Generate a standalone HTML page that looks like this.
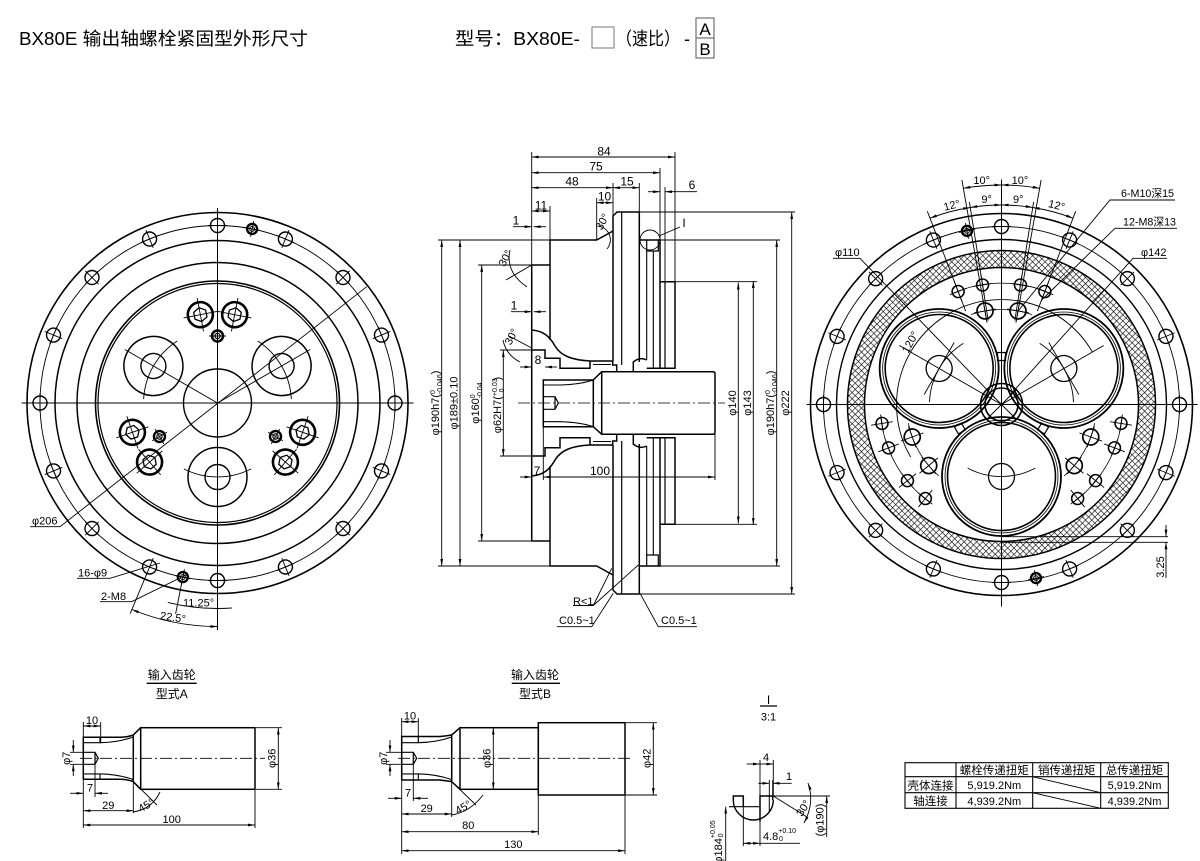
<!DOCTYPE html>
<html><head><meta charset="utf-8"><title>BX80E</title>
<style>
html,body{margin:0;padding:0;background:#fff;width:1200px;height:861px;overflow:hidden}
svg{display:block}
text{font-family:"Liberation Sans","Noto Sans CJK SC",sans-serif;fill:#000;stroke:none}
</style></head><body>
<svg width="1200" height="861" viewBox="0 0 1200 861" xmlns="http://www.w3.org/2000/svg">
<defs>
<marker id="ar" viewBox="0 0 10 4" refX="10" refY="2" markerWidth="7" markerHeight="2.8" markerUnits="userSpaceOnUse" orient="auto-start-reverse"><path d="M0,0L10,2L0,4z" fill="#000" stroke="none"/></marker>
<pattern id="hx" width="4.4" height="4.4" patternUnits="userSpaceOnUse" patternTransform="rotate(45)"><path d="M0,0H4.4M0,0V4.4" stroke="#000" stroke-width="1.15" fill="none"/></pattern>
<g id="h9" fill="none" stroke="#000"><circle r="7" stroke-width="1.4"/><path d="M-9.5,0H9.5M0,-9.5V9.5" stroke-width="0.9"/></g>
<g id="m8o" fill="none" stroke="#000"><circle r="5" stroke-width="2.4"/><circle r="2.4" stroke-width="1"/><path d="M-8,0H8M0,-8V8" stroke-width="0.9"/></g>
<g id="bolt" fill="none" stroke="#000"><circle r="12.5" stroke-width="2.6"/><path d="M7,0L3.5,6.06L-3.5,6.06L-7,0L-3.5,-6.06L3.5,-6.06Z" stroke-width="1.3"/><path d="M-17,0H17M0,-17V17" stroke-width="0.9"/></g>
<g id="dow" fill="none" stroke="#000"><circle r="5.5" stroke-width="2.4"/><circle r="2.6" stroke-width="1.2"/><path d="M-8.5,0H8.5M0,-8.5V8.5" stroke-width="0.9"/></g>
<g id="m8i" fill="none" stroke="#000"><circle r="6" stroke-width="1.5"/><path d="M-11,0H11M0,-9V9" stroke-width="0.9"/></g>
<g id="m10" fill="none" stroke="#000"><circle r="8" stroke-width="1.7"/><path d="M-12,0H12M0,-11V11" stroke-width="0.9"/></g>
<g id="mu" fill="none" stroke="#000" stroke-width="1.5">
<path d="M550,340V240H596.7L613,231"/>
<path d="M531.7,265H550"/>
<path d="M613,361V216L617,212H639.3V362"/>
<path d="M621.7,212V365" stroke-width="1.2"/>
<path d="M639.3,240H660V368.3"/>
<path d="M646.7,251V360M653.3,251V368.3" stroke-width="1.1"/>
<path d="M646.7,240V251H658.3V240" stroke-width="1.2"/>
<path d="M660,281.7H675V368.3H646.7"/>
<path d="M665,281.7V368.3" stroke-width="1.2"/>
<path d="M531.7,330C544,331 550,337 555,346C561,356 572,360 590,361H612.7V365H616.7V371.7H633.3V362Q640,356.5 646.7,360"/>
<path d="M531.7,350H545V358.3H560V368.3H590V361"/>
<path d="M593,364.5H611" stroke-width="1"/>
</g>
</defs>

<!-- HEADER -->
<text x="19" y="45" font-size="18" textLength="289" lengthAdjust="spacingAndGlyphs">BX80E 输出轴螺栓紧固型外形尺寸</text>
<text x="455" y="45" font-size="18" textLength="125" lengthAdjust="spacingAndGlyphs">型号：BX80E-</text>
<rect x="592" y="27" width="22" height="21" fill="none" stroke="#777" stroke-width="1"/>
<text x="616" y="45" font-size="18" textLength="64" lengthAdjust="spacingAndGlyphs">（速比）</text>
<text x="684" y="45" font-size="18">-</text>
<rect x="696" y="18" width="18" height="40" fill="none" stroke="#555" stroke-width="1"/>
<line x1="696" y1="38" x2="714" y2="38" stroke="#555" stroke-width="1"/>
<text x="705" y="35" font-size="17" text-anchor="middle">A</text>
<text x="705" y="55" font-size="17" text-anchor="middle">B</text>

<!-- LEFT VIEW -->
<g transform="translate(217.5,403)" fill="none" stroke="#000">
<circle r="190.5" stroke-width="1.6"/>
<circle r="177.5" stroke-width="0.9"/>
<circle r="162.5" stroke-width="1.5"/>
<circle r="140.5" stroke-width="1.5"/>
<circle r="122" stroke-width="1.6"/>
<circle r="119.5" stroke-width="1.2"/>
<circle r="34" stroke-width="1.4"/>
<path d="M-196,0H196M0,-195V227" stroke-width="1"/>
<use href="#h9" transform="rotate(0) translate(177.5,0)"/>
<use href="#h9" transform="rotate(22.5) translate(177.5,0)"/>
<use href="#h9" transform="rotate(45) translate(177.5,0)"/>
<use href="#h9" transform="rotate(67.5) translate(177.5,0)"/>
<use href="#h9" transform="rotate(90) translate(177.5,0)"/>
<use href="#h9" transform="rotate(112.5) translate(177.5,0)"/>
<use href="#h9" transform="rotate(135) translate(177.5,0)"/>
<use href="#h9" transform="rotate(157.5) translate(177.5,0)"/>
<use href="#h9" transform="rotate(180) translate(177.5,0)"/>
<use href="#h9" transform="rotate(202.5) translate(177.5,0)"/>
<use href="#h9" transform="rotate(225) translate(177.5,0)"/>
<use href="#h9" transform="rotate(247.5) translate(177.5,0)"/>
<use href="#h9" transform="rotate(270) translate(177.5,0)"/>
<use href="#h9" transform="rotate(292.5) translate(177.5,0)"/>
<use href="#h9" transform="rotate(315) translate(177.5,0)"/>
<use href="#h9" transform="rotate(337.5) translate(177.5,0)"/>
<use href="#m8o" transform="rotate(-78.75) translate(177.5,0)"/>
<use href="#m8o" transform="rotate(101.25) translate(177.5,0)"/>
<use href="#bolt" transform="rotate(-101) translate(90,0)"/>
<use href="#bolt" transform="rotate(-79) translate(90,0)"/>
<use href="#bolt" transform="rotate(19) translate(90,0)"/>
<use href="#bolt" transform="rotate(41) translate(90,0)"/>
<use href="#bolt" transform="rotate(139) translate(90,0)"/>
<use href="#bolt" transform="rotate(161) translate(90,0)"/>
<use href="#dow" transform="rotate(-90) translate(67,0)"/>
<use href="#dow" transform="rotate(30) translate(67,0)"/>
<use href="#dow" transform="rotate(150) translate(67,0)"/>
<g transform="rotate(210)"><path d="M0,0H107" stroke-width="0.9"/><path d="M65.9,-33.6A74,74 0 0,1 65.9,33.6" stroke-width="0.9"/><g transform="translate(74,0)"><circle r="29.5" stroke-width="1.5"/><circle r="12.5" stroke-width="1.4"/></g></g>
<g transform="rotate(330)"><path d="M0,0H107" stroke-width="0.9"/><path d="M65.9,-33.6A74,74 0 0,1 65.9,33.6" stroke-width="0.9"/><g transform="translate(74,0)"><circle r="29.5" stroke-width="1.5"/><circle r="12.5" stroke-width="1.4"/></g></g>
<g transform="rotate(90)"><path d="M65.9,-33.6A74,74 0 0,1 65.9,33.6" stroke-width="0.9"/><g transform="translate(74,0)"><circle r="29.5" stroke-width="1.5"/><circle r="12.5" stroke-width="1.4"/></g></g>
</g>
<g fill="none" stroke="#000" stroke-width="0.9">
<path d="M30,526.7H60L366.7,286.7"/>
<path d="M77,578.3H110L160,563"/>
<path d="M100,601.7H131.7L186,575"/>
<path d="M181.8,582.5L175.6,613.9"/>
<path d="M146.7,573.9L130.2,613.6"/>
<path d="M231.8,608A205.5,205.5 0 0,1 167.8,602.4"/>
<path d="M217.5,626.5A223.5,223.5 0 0,1 132,609.5" marker-start="url(#ar)" marker-end="url(#ar)"/>
</g>
<text x="32" y="524.5" font-size="11">φ206</text>
<text x="78" y="576.5" font-size="11">16-φ9</text>
<text x="101" y="600" font-size="11">2-M8</text>
<text x="183" y="606.5" font-size="11">11.25°</text>
<text x="173" y="621" font-size="11" text-anchor="middle" transform="rotate(8,173,617)">22.5°</text>

<!-- MIDDLE SECTION VIEW -->
<use href="#mu"/>
<use href="#mu" transform="matrix(1,0,0,-1,0,806)"/>
<g fill="none" stroke="#000" stroke-width="1.5">
<path d="M531.7,265V541"/>
<path d="M601.7,371.7H713Q715,371.7 715,373.7V432.3Q715,434.3 713,434.3H601.7L593.3,426.7V380Z"/>
<path d="M601.7,371.7V434.3"/>
<path d="M593.3,380H543.3V426.7H593.3"/>
<path d="M543.3,385H560M543.3,421.7H560" stroke-width="1.1"/>
<path d="M560,385Q580,384.5 593.3,380M560,421.7Q580,422.2 593.3,426.7" stroke-width="1.1"/>
<path d="M543.3,396.7H555L558.3,403L555,409.3H543.3M555,396.7V409.3" stroke-width="1.2"/>
</g>
<path d="M518,403H725" stroke="#000" stroke-width="0.8" stroke-dasharray="12 3 2 3"/>
<g fill="none" stroke="#000" stroke-width="0.9">
<path d="M531.7,152V265M675,152V281.7M660,168V240M613,183V216M639.3,183V212M665,187V281.7M596.7,198V240M550,206V240"/>
<path d="M438,240H550M438,566H550M478,265H531.7M478,541H531.7M500,350H531.7M500,456H531.7"/>
<path d="M640,212H795M640,594H795M660,240H780M660,566H780M675,281.7H757M675,524.3H757"/>
<path d="M715,434V480M543.3,427V480"/>
<line x1="531.7" y1="157" x2="675" y2="157" marker-start="url(#ar)" marker-end="url(#ar)"/>
<line x1="531.7" y1="172.7" x2="660" y2="172.7" marker-start="url(#ar)" marker-end="url(#ar)"/>
<line x1="531.7" y1="187.7" x2="613" y2="187.7" marker-start="url(#ar)" marker-end="url(#ar)"/>
<line x1="613" y1="187.7" x2="639.3" y2="187.7" marker-start="url(#ar)" marker-end="url(#ar)"/>
<line x1="648" y1="191.7" x2="660" y2="191.7" marker-end="url(#ar)"/>
<line x1="697" y1="191.7" x2="665" y2="191.7" marker-end="url(#ar)"/>
<line x1="596.7" y1="202.7" x2="613" y2="202.7" marker-start="url(#ar)" marker-end="url(#ar)"/>
<line x1="531.7" y1="211" x2="550" y2="211" marker-start="url(#ar)" marker-end="url(#ar)"/>
<line x1="513" y1="226.7" x2="531.7" y2="226.7" marker-end="url(#ar)"/>
<line x1="546" y1="226.7" x2="533.7" y2="226.7" marker-end="url(#ar)"/>
<line x1="511" y1="311.7" x2="531.7" y2="311.7" marker-end="url(#ar)"/>
<line x1="546" y1="311.7" x2="533.7" y2="311.7" marker-end="url(#ar)"/>
<line x1="520" y1="367" x2="531.7" y2="367" marker-end="url(#ar)"/>
<line x1="557" y1="367" x2="545" y2="367" marker-end="url(#ar)"/>
<line x1="520" y1="477" x2="531.7" y2="477" marker-end="url(#ar)"/>
<line x1="543.3" y1="477" x2="715" y2="477" marker-start="url(#ar)" marker-end="url(#ar)"/>
<path d="M531.7,265L506,280M510,250Q505,272 527,287"/>
<path d="M531.7,348L509,336M503,340Q506,355 520,362"/>
<path d="M598,226A14,14 0 0,1 607,249"/>
<line x1="441.7" y1="240" x2="441.7" y2="566" marker-start="url(#ar)" marker-end="url(#ar)"/>
<line x1="460" y1="240" x2="460" y2="566" marker-start="url(#ar)" marker-end="url(#ar)"/>
<line x1="481.7" y1="265" x2="481.7" y2="541" marker-start="url(#ar)" marker-end="url(#ar)"/>
<line x1="503.3" y1="350" x2="503.3" y2="456" marker-start="url(#ar)" marker-end="url(#ar)"/>
<line x1="738.3" y1="282.6" x2="738.3" y2="523.4" marker-start="url(#ar)" marker-end="url(#ar)"/>
<line x1="753.3" y1="281" x2="753.3" y2="525" marker-start="url(#ar)" marker-end="url(#ar)"/>
<line x1="776.7" y1="240" x2="776.7" y2="566" marker-start="url(#ar)" marker-end="url(#ar)"/>
<line x1="791.7" y1="212" x2="791.7" y2="594" marker-start="url(#ar)" marker-end="url(#ar)"/>
<circle cx="650" cy="240" r="10"/>
<path d="M659,236L680,227"/>
<path d="M573,605.5H593.3L611.7,568.3M593.3,605.5L638.3,565"/>
<path d="M557,626.7H591.7L613.3,593.3"/>
<path d="M697,626.7H658.3L640,593.3"/>
</g>
<g font-size="12" text-anchor="middle">
<text x="604" y="155.5">84</text>
<text x="596" y="170.5">75</text>
<text x="572" y="185.5">48</text>
<text x="627" y="185.5">15</text>
<text x="692" y="189">6</text>
<text x="604.5" y="200.5">10</text>
<text x="541" y="209.5">11</text>
<text x="516" y="224.5">1</text>
<text x="514" y="309.5">1</text>
<text x="538" y="364">8</text>
<text x="537" y="475">7</text>
<text x="600" y="475">100</text>
<text x="684" y="227">I</text>
</g>
<g font-size="11">
<text x="505" y="262" text-anchor="middle" transform="rotate(-62,505,258)">30°</text>
<text x="512" y="340" text-anchor="middle" transform="rotate(-62,512,337)">30°</text>
<text x="603" y="225" text-anchor="middle" transform="rotate(-62,603,222)">30°</text>
<text x="573" y="605">R&lt;1</text>
<text x="559" y="624">C0.5~1</text>
<text x="661" y="624">C0.5~1</text>
</g>
<g font-size="11" text-anchor="middle">
<text transform="translate(439,403) rotate(-90)">φ190h7(<tspan font-size="7" dy="-4">0</tspan><tspan font-size="7" dx="-4" dy="7">-0.046</tspan><tspan dy="-3">)</tspan></text>
<text transform="translate(457.5,403) rotate(-90)">φ189±0.10</text>
<text transform="translate(479,403) rotate(-90)">φ160<tspan font-size="7" dy="-4">0</tspan><tspan font-size="7" dx="-4" dy="7">-0.04</tspan></text>
<text transform="translate(501,405) rotate(-90)">φ62H7(<tspan font-size="7" dy="-4">+0.03</tspan><tspan font-size="7" dx="-14" dy="7">0</tspan><tspan dx="8" dy="-3">)</tspan></text>
<text transform="translate(736,403) rotate(-90)">φ140</text>
<text transform="translate(751,403) rotate(-90)">φ143</text>
<text transform="translate(774,403) rotate(-90)">φ190h7(<tspan font-size="7" dy="-4">0</tspan><tspan font-size="7" dx="-4" dy="7">-0.046</tspan><tspan dy="-3">)</tspan></text>
<text transform="translate(789,403) rotate(-90)">φ222</text>
</g>

<!-- RIGHT VIEW -->
<g transform="translate(1001.5,404.5)" fill="none" stroke="#000">
<path fill="url(#hx)" fill-rule="evenodd" stroke="none" d="M-154,0A154,154 0 1,0 154,0A154,154 0 1,0 -154,0ZM-137,0A137,137 0 1,0 137,0A137,137 0 1,0 -137,0Z"/>
<circle r="191" stroke-width="1.6"/>
<circle r="178" stroke-width="0.9"/>
<circle r="165" stroke-width="1.4"/>
<circle r="154" stroke-width="1.5"/>
<circle r="137" stroke-width="1.5"/>
<path d="M-195,0H196M0,-225V202" stroke-width="1"/>
<use href="#h9" transform="rotate(0) translate(178,0)"/>
<use href="#h9" transform="rotate(22.5) translate(178,0)"/>
<use href="#h9" transform="rotate(45) translate(178,0)"/>
<use href="#h9" transform="rotate(67.5) translate(178,0)"/>
<use href="#h9" transform="rotate(90) translate(178,0)"/>
<use href="#h9" transform="rotate(112.5) translate(178,0)"/>
<use href="#h9" transform="rotate(135) translate(178,0)"/>
<use href="#h9" transform="rotate(157.5) translate(178,0)"/>
<use href="#h9" transform="rotate(180) translate(178,0)"/>
<use href="#h9" transform="rotate(202.5) translate(178,0)"/>
<use href="#h9" transform="rotate(225) translate(178,0)"/>
<use href="#h9" transform="rotate(247.5) translate(178,0)"/>
<use href="#h9" transform="rotate(270) translate(178,0)"/>
<use href="#h9" transform="rotate(292.5) translate(178,0)"/>
<use href="#h9" transform="rotate(315) translate(178,0)"/>
<use href="#h9" transform="rotate(337.5) translate(178,0)"/>
<use href="#m8o" transform="rotate(-101.25) translate(177,0)"/>
<use href="#m8o" transform="rotate(78.75) translate(177,0)"/>
<use href="#m8i" transform="rotate(-99) translate(121,0)"/>
<use href="#m8i" transform="rotate(-81) translate(121,0)"/>
<use href="#m8i" transform="rotate(-111) translate(121,0)"/>
<use href="#m8i" transform="rotate(-69) translate(121,0)"/>
<use href="#m8i" transform="rotate(21) translate(121,0)"/>
<use href="#m8i" transform="rotate(39) translate(121,0)"/>
<use href="#m8i" transform="rotate(9) translate(121,0)"/>
<use href="#m8i" transform="rotate(51) translate(121,0)"/>
<use href="#m8i" transform="rotate(141) translate(121,0)"/>
<use href="#m8i" transform="rotate(159) translate(121,0)"/>
<use href="#m8i" transform="rotate(129) translate(121,0)"/>
<use href="#m8i" transform="rotate(171) translate(121,0)"/>
<use href="#m10" transform="rotate(-100) translate(95,0)"/>
<use href="#m10" transform="rotate(-80) translate(95,0)"/>
<use href="#m10" transform="rotate(20) translate(95,0)"/>
<use href="#m10" transform="rotate(40) translate(95,0)"/>
<use href="#m10" transform="rotate(140) translate(95,0)"/>
<use href="#m10" transform="rotate(160) translate(95,0)"/>
<g stroke-width="0.8">
<path d="M-48.4,-111.3A121,121 0 0,1 48.4,-111.3"/>
<path d="M-30.5,-90A95,95 0 0,1 30.5,-90"/>
<g transform="rotate(120)"><path d="M-48.4,-111.3A121,121 0 0,1 48.4,-111.3"/><path d="M-30.5,-90A95,95 0 0,1 30.5,-90"/></g>
<g transform="rotate(240)"><path d="M-48.4,-111.3A121,121 0 0,1 48.4,-111.3"/><path d="M-30.5,-90A95,95 0 0,1 30.5,-90"/></g>
</g>
<g transform="rotate(210)"><path d="M0,0H118" stroke-width="0.9"/><path d="M63.6,-33.8A72,72 0 0,1 63.6,33.8" stroke-width="0.9"/><g transform="translate(72,0)"><circle r="59.5" stroke-width="1.8"/><circle r="56.5" stroke-width="0.8"/><circle r="54" stroke-width="1.6"/><circle r="13" stroke-width="1.3"/><path d="M0,-30V30" stroke-width="0.9"/></g></g>
<g transform="rotate(330)"><path d="M0,0H118" stroke-width="0.9"/><path d="M63.6,-33.8A72,72 0 0,1 63.6,33.8" stroke-width="0.9"/><g transform="translate(72,0)"><circle r="59.5" stroke-width="1.8"/><circle r="56.5" stroke-width="0.8"/><circle r="54" stroke-width="1.6"/><circle r="13" stroke-width="1.3"/><path d="M0,-30V30" stroke-width="0.9"/></g></g>
<g transform="rotate(90)"><path d="M63.6,-33.8A72,72 0 0,1 63.6,33.8" stroke-width="0.9"/><g transform="translate(72,0)"><circle r="59.5" stroke-width="1.8"/><circle r="56.5" stroke-width="0.8"/><circle r="54" stroke-width="1.6"/><circle r="13" stroke-width="1.3"/></g></g>
<g transform="rotate(270)"><rect x="44" y="-4" width="8" height="8" stroke-width="1.2"/></g>
<g transform="rotate(30)"><rect x="44" y="-4" width="8" height="8" stroke-width="1.2"/></g>
<g transform="rotate(150)"><rect x="44" y="-4" width="8" height="8" stroke-width="1.2"/></g>
<circle r="21" stroke-width="1.6"/>
<circle r="16.5" stroke-width="1.6"/>
<path d="M-15,-15L15,15M-15,15L15,-15" stroke-width="0.9"/>
<path d="M-90.9,-52.5A105,105 0 0,1 90.9,-52.5" stroke-width="0.9"/>
<path d="M-90.9,52.5A105,105 0 0,1 -90.9,-52.5" stroke-width="0.9"/>
<g stroke-width="0.9">
<path d="M-14.8,-83.7L-39.6,-224.5M14.8,-83.7L39.6,-224.5"/>
<path d="M-13.3,-84L-32.1,-202.5M13.3,-84L32.1,-202.5"/>
<path d="M-35.8,-93.4L-74.2,-193.3M35.8,-93.4L74.2,-193.3"/>
<path d="M0,-219.5A219.5,219.5 0 0,0 -38.1,-216.2" marker-start="url(#ar)" marker-end="url(#ar)"/>
<path d="M0,-219.5A219.5,219.5 0 0,1 38.1,-216.2" marker-start="url(#ar)" marker-end="url(#ar)"/>
<path d="M0,-199.5A199.5,199.5 0 0,0 -31.2,-197" marker-start="url(#ar)" marker-end="url(#ar)"/>
<path d="M0,-199.5A199.5,199.5 0 0,1 31.2,-197" marker-start="url(#ar)" marker-end="url(#ar)"/>
<path d="M-31.2,-197A199.5,199.5 0 0,0 -71.5,-186.3" marker-start="url(#ar)" marker-end="url(#ar)"/>
<path d="M31.2,-197A199.5,199.5 0 0,1 71.5,-186.3" marker-start="url(#ar)" marker-end="url(#ar)"/>
</g>
</g>
<g fill="none" stroke="#000" stroke-width="0.9">
<path d="M1175,200H1110L1018,311"/>
<path d="M1177,228.3H1115L1041.7,300"/>
<path d="M1167,258.3H1133L1010,395"/>
<path d="M833,258.3H860L995,398"/>
<path d="M1001.5,536.7H1168M1001.5,542.3H1168"/>
<line x1="1166" y1="525" x2="1166" y2="536.7" marker-end="url(#ar)"/>
<line x1="1166" y1="578" x2="1166" y2="542.3" marker-end="url(#ar)"/>
</g>
<g font-size="11">
<text x="981.7" y="184" text-anchor="middle">10°</text>
<text x="1020" y="184" text-anchor="middle">10°</text>
<text x="986.7" y="203" text-anchor="middle">9°</text>
<text x="1018.3" y="203" text-anchor="middle">9°</text>
<text x="951.7" y="209" text-anchor="middle" transform="rotate(-14,951.7,205)">12°</text>
<text x="1056.7" y="209" text-anchor="middle" transform="rotate(14,1056.7,205)">12°</text>
<text x="1121" y="197" textLength="53" lengthAdjust="spacingAndGlyphs">6-M10深15</text>
<text x="1123" y="225.5" textLength="53" lengthAdjust="spacingAndGlyphs">12-M8深13</text>
<text x="1141" y="256">φ142</text>
<text x="835" y="256">φ110</text>
<text x="910" y="346" text-anchor="middle" transform="rotate(-62,910,342)">120°</text>
<text transform="translate(1164,567) rotate(-90)" text-anchor="middle">3.25</text>
</g>

<!-- TYPE A / B titles -->
<g font-size="12" text-anchor="middle">
<text x="171.7" y="679">输入齿轮</text>
<text x="171.7" y="698">型式A</text>
<text x="535" y="679">输入齿轮</text>
<text x="535" y="698">型式B</text>
</g>
<line x1="146.7" y1="683.3" x2="196.7" y2="683.3" stroke="#000" stroke-width="1.3"/>
<line x1="511.7" y1="683.3" x2="560" y2="683.3" stroke="#000" stroke-width="1.3"/>

<!-- TYPE A -->
<g fill="none" stroke="#000" stroke-width="1.5">
<rect x="140.7" y="727.7" width="114.3" height="61.6"/>
<path d="M140.7,727.7L133.3,735V781.7L140.7,789.3"/>
<path d="M83.3,779.3V737.3H121Q128,737 133.3,735M83.3,779.3H121Q128,779.6 133.3,781.6"/>
<path d="M83.3,742.7H100V737.3M83.3,773.9H100V779.3" stroke-width="1.1"/>
<path d="M100,742.7Q118,742.5 133.3,737M100,773.9Q118,774.1 133.3,779.6" stroke-width="1.1"/>
<path d="M83.3,752.3H95L98.3,758.3L95,764.3H83.3M95,752.3V764.3" stroke-width="1.2"/>
</g>
<path d="M80,758.3H265" stroke="#000" stroke-width="0.8" stroke-dasharray="12 3 2 3"/>
<g fill="none" stroke="#000" stroke-width="0.9">
<path d="M83.3,722V737M100.7,722V742.7M70,752.3H83.3M70,764.3H83.3M95,764.3V797M133.3,782V813M83.3,779V828M255,790V828M256,727.7H282M256,789.3H282M133.3,781.7L157,805"/>
<line x1="83.3" y1="726" x2="100.7" y2="726" marker-start="url(#ar)" marker-end="url(#ar)"/>
<line x1="73.3" y1="740" x2="73.3" y2="752.3" marker-end="url(#ar)"/>
<line x1="73.3" y1="776" x2="73.3" y2="764.3" marker-end="url(#ar)"/>
<line x1="70" y1="793.3" x2="83.3" y2="793.3" marker-end="url(#ar)"/>
<line x1="108" y1="793.3" x2="95" y2="793.3" marker-end="url(#ar)"/>
<line x1="83.3" y1="810.7" x2="133.3" y2="810.7" marker-start="url(#ar)" marker-end="url(#ar)"/>
<line x1="83.3" y1="825" x2="255" y2="825" marker-start="url(#ar)" marker-end="url(#ar)"/>
<line x1="278.3" y1="727.7" x2="278.3" y2="789.3" marker-start="url(#ar)" marker-end="url(#ar)"/>
<path d="M133.3,812Q152,809 160,792"/>
</g>
<g font-size="11" text-anchor="middle">
<text x="92" y="724">10</text>
<text transform="translate(70,758.3) rotate(-90)">φ7</text>
<text x="90" y="791.5">7</text>
<text x="108.3" y="809">29</text>
<text x="146" y="809" transform="rotate(-30,146,805)">45°</text>
<text x="171.7" y="823">100</text>
<text transform="translate(275.5,758.3) rotate(-90)">φ36</text>
</g>

<!-- TYPE B -->
<g fill="none" stroke="#000" stroke-width="1.5">
<rect x="460" y="727.7" width="78.3" height="61.6"/>
<rect x="538.3" y="722.7" width="86.7" height="72.3"/>
<path d="M460,727.7L451.7,735V781.7L460,789.3"/>
<path d="M401.7,780V736.5H440Q446,736 451.7,735M401.7,780H440Q446,780.6 451.7,781.6"/>
<path d="M401.7,742.7H418.3V736.5M401.7,773.9H418.3V780" stroke-width="1.1"/>
<path d="M418.3,742.7Q436,742.5 451.7,737M418.3,773.9Q436,774.1 451.7,779.6" stroke-width="1.1"/>
<path d="M401.7,752.3H413.3L416.7,758.3L413.3,764.3H401.7M413.3,752.3V764.3" stroke-width="1.2"/>
</g>
<path d="M398,758.3H633" stroke="#000" stroke-width="0.8" stroke-dasharray="12 3 2 3"/>
<g fill="none" stroke="#000" stroke-width="0.9">
<path d="M401.7,718V736M418.3,718V742.7M386,752.3H401.7M386,764.3H401.7M413.3,764.3V801M451.7,782V817M401.7,780V854M538.3,795V835M625,795V854M626,722.7H657M626,795H657M451.7,781.7L476,805"/>
<line x1="401.7" y1="721.7" x2="418.3" y2="721.7" marker-start="url(#ar)" marker-end="url(#ar)"/>
<line x1="390" y1="740" x2="390" y2="752.3" marker-end="url(#ar)"/>
<line x1="390" y1="776" x2="390" y2="764.3" marker-end="url(#ar)"/>
<line x1="388" y1="798.3" x2="401.7" y2="798.3" marker-end="url(#ar)"/>
<line x1="428" y1="798.3" x2="413.3" y2="798.3" marker-end="url(#ar)"/>
<line x1="401.7" y1="814" x2="451.7" y2="814" marker-start="url(#ar)" marker-end="url(#ar)"/>
<line x1="401.7" y1="831.7" x2="538.3" y2="831.7" marker-start="url(#ar)" marker-end="url(#ar)"/>
<line x1="401.7" y1="850.7" x2="625" y2="850.7" marker-start="url(#ar)" marker-end="url(#ar)"/>
<line x1="493.3" y1="727.7" x2="493.3" y2="789.3" marker-start="url(#ar)" marker-end="url(#ar)"/>
<line x1="653.3" y1="722.7" x2="653.3" y2="795" marker-start="url(#ar)" marker-end="url(#ar)"/>
<path d="M451.7,815Q470,812 483,795"/>
</g>
<g font-size="11" text-anchor="middle">
<text x="410" y="719.5">10</text>
<text transform="translate(387,758.3) rotate(-90)">φ7</text>
<text x="408" y="796.5">7</text>
<text x="426.7" y="812">29</text>
<text x="463" y="811" transform="rotate(-30,463,807)">45°</text>
<text x="468.3" y="829">80</text>
<text x="513.3" y="848">130</text>
<text transform="translate(490.5,758.3) rotate(-90)">φ36</text>
<text transform="translate(650.5,758.3) rotate(-90)">φ42</text>
</g>

<!-- DETAIL I -->
<text x="768.5" y="704" font-size="12" text-anchor="middle">I</text>
<line x1="760" y1="706" x2="777" y2="706" stroke="#000" stroke-width="1.2"/>
<text x="768.5" y="720.5" font-size="11" text-anchor="middle">3:1</text>
<g fill="none" stroke="#000" stroke-width="1.5">
<path d="M733.3,800V796H743.3V806.7"/>
<path d="M729,806.7H760" stroke-width="1.2"/>
<path d="M760,821.7V796H772.7V800"/>
<path d="M769.3,796V812" stroke-width="1"/>
<path d="M733.3,800A20,20 0 0,0 773.3,800" stroke-width="1.4"/>
</g>
<g fill="none" stroke="#000" stroke-width="0.9">
<path d="M760,760V796M773.3,760V796M769.3,780V796M772.7,780V796M773.3,796H830M773.3,796L807,817M743.3,806.7V846M760,821.7V846"/>
<line x1="746.7" y1="764" x2="760" y2="764" marker-end="url(#ar)"/>
<line x1="760" y1="764" x2="773.3" y2="764" marker-end="url(#ar)"/>
<line x1="758.3" y1="783.3" x2="769.3" y2="783.3" marker-end="url(#ar)"/>
<line x1="791.7" y1="783.3" x2="772.7" y2="783.3" marker-end="url(#ar)"/>
<line x1="826.7" y1="837" x2="826.7" y2="796" marker-end="url(#ar)"/>
<line x1="743.3" y1="843.3" x2="760" y2="843.3" marker-start="url(#ar)" marker-end="url(#ar)"/>
<line x1="760" y1="843.3" x2="800" y2="843.3"/>
<line x1="725.7" y1="861" x2="725.7" y2="806.7" marker-end="url(#ar)"/>
<path d="M808,783Q815,803 804,823" marker-start="url(#ar)" marker-end="url(#ar)"/>
</g>
<g font-size="11">
<text x="766" y="761" text-anchor="middle">4</text>
<text x="789" y="780" text-anchor="middle">1</text>
<text x="803" y="812" text-anchor="middle" transform="rotate(-58,803,808)">30°</text>
<text transform="translate(823.5,820) rotate(-90)" text-anchor="middle">(φ190)</text>
<text x="763" y="840">4.8<tspan font-size="7" dy="-7">+0.10</tspan><tspan font-size="7" dx="-17" dy="8">0</tspan></text>
<text transform="translate(722,842) rotate(-90)" text-anchor="middle">φ184<tspan font-size="7" dy="-7">+0.05</tspan><tspan font-size="7" dx="-17" dy="8">0</tspan></text>
</g>

<!-- TABLE -->
<g fill="none" stroke="#000" stroke-width="1.1">
<rect x="905" y="762.7" width="263.3" height="45.6"/>
<path d="M905,776.7H1168.3M905,792.7H1168.3M956,762.7V808.3M1032.7,762.7V808.3M1100.7,762.7V808.3"/>
<path d="M1032.7,776.7L1100.7,792.7M1032.7,792.7L1100.7,808.3" stroke-width="1"/>
</g>
<g font-size="11.5" text-anchor="middle">
<text x="994.3" y="774">螺栓传递扭矩</text>
<text x="1066.7" y="774">销传递扭矩</text>
<text x="1134.5" y="774">总传递扭矩</text>
<text x="930.5" y="789.5">壳体连接</text>
<text x="930.5" y="805">轴连接</text>
</g>
<g font-size="11" text-anchor="middle">
<text x="994.3" y="789">5,919.2Nm</text>
<text x="1134.5" y="789">5,919.2Nm</text>
<text x="994.3" y="805">4,939.2Nm</text>
<text x="1134.5" y="805">4,939.2Nm</text>
</g>
</svg>
</body></html>
